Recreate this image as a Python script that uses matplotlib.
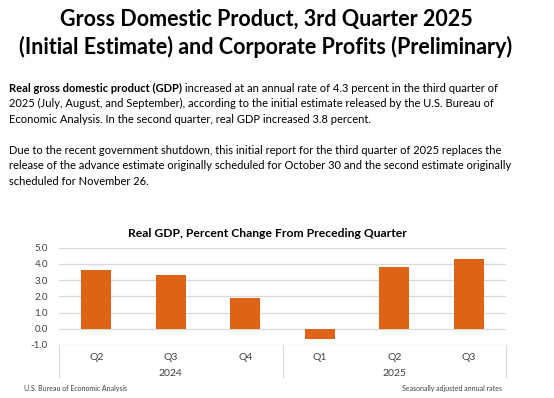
import matplotlib
matplotlib.use('Agg')
import matplotlib.pyplot as plt

quarters = ['Q2', 'Q3', 'Q4', 'Q1', 'Q2', 'Q3']
years = ['2024', '2025']
year_groups = [3, 3]
gdp_change = [3.6, 3.3, 1.9, -0.6, 3.8, 4.3]
y_ticks = [-1.0, 0.0, 1.0, 2.0, 3.0, 4.0, 5.0]

title = 'Gross Domestic Product, 3rd Quarter 2025\n(Initial Estimate) and Corporate Profits (Preliminary)'
para1_bold = 'Real gross domestic product (GDP)'
para1_rest = [' increased at an annual rate of 4.3 percent in the third quarter of',
              '2025 (July, August, and September), according to the initial estimate released by the U.S. Bureau of',
              'Economic Analysis. In the second quarter, real GDP increased 3.8 percent.']
para2 = ['Due to the recent government shutdown, this initial report for the third quarter of 2025 replaces the',
         'release of the advance estimate originally scheduled for October 30 and the second estimate originally',
         'scheduled for November 26.']
chart_title = 'Real GDP, Percent Change From Preceding Quarter'
source = 'U.S. Bureau of Economic Analysis'
note = 'Seasonally adjusted annual rates'

plt.rcParams['font.family'] = ['Lato', 'DejaVu Sans']
bar_color = '#DD6317'
grid_color = '#D9D9D9'
text_color = '#404040'

fig = plt.figure(figsize=(5.54, 3.98), dpi=100)
fig.patch.set_facecolor('white')

fig.text(266 / 554, 1 - 33 / 398, title, ha='center', va='center', fontsize=15.5,
         fontweight='bold', color='black', linespacing=1.35)

# paragraph 1, bold lead then regular text
body_size = 8.05
line_h = 15.6 / 398
x0 = 9 / 554
y1 = 1 - 88 / 398
t = fig.text(x0, y1, para1_bold, fontsize=body_size, fontweight='bold', va='center', color='black')
fig.canvas.draw()
bb = t.get_window_extent(renderer=fig.canvas.get_renderer())
fig.text(bb.x1 / fig.bbox.width, y1, para1_rest[0], fontsize=body_size, va='center', color='black')
for i, line in enumerate(para1_rest[1:]):
    fig.text(x0, y1 - (i + 1) * line_h, line, fontsize=body_size, va='center', color='black')

y2 = 1 - 150 / 398
for i, line in enumerate(para2):
    fig.text(x0, y2 - i * line_h, line, fontsize=body_size, va='center', color='black')

ax = fig.add_axes([59 / 554, 1 - 345 / 398, 447 / 554, (345 - 247.7) / 398])
x = range(len(gdp_change))
ax.bar(x, gdp_change, width=0.4, color=bar_color, zorder=3)
ax.set_xlim(-0.5, len(gdp_change) - 0.5)
ax.set_ylim(y_ticks[0], y_ticks[-1])
ax.set_yticks(y_ticks)
ax.set_yticklabels([f'{v:.1f}' for v in y_ticks], fontsize=7, color=text_color)
for v in y_ticks:
    ax.axhline(v, color=grid_color, linewidth=0.9, zorder=1)
for s in ax.spines.values():
    s.set_visible(False)
ax.tick_params(axis='y', length=0, pad=8)
ax.set_xticks(list(x))
ax.set_xticklabels(quarters, fontsize=7.5, color=text_color)
ax.tick_params(axis='x', length=0, pad=6)

# year separators and labels under the quarter labels
trans = ax.get_xaxis_transform()
edges = [-0.5]
for n in year_groups:
    edges.append(edges[-1] + n)
for e in edges:
    ax.plot([e, e], [0, -32 / 97.3], transform=trans, color=grid_color,
            linewidth=0.9, clip_on=False)
for i, yr in enumerate(years):
    mid = (edges[i] + edges[i + 1]) / 2
    ax.text(mid, -28.5 / 97.3, yr, transform=trans, ha='center', va='center',
            fontsize=7.5, color=text_color)

fig.text(267 / 554, 1 - 233 / 398, chart_title, ha='center', va='center',
         fontsize=8.7, fontweight='bold', color='black')
fig.text(24 / 554, 1 - 388 / 398, source, ha='left', va='center', fontsize=5, color=text_color)
fig.text(502 / 554, 1 - 388 / 398, note, ha='right', va='center', fontsize=5, color=text_color)

fig.savefig('out.png', dpi=100)
